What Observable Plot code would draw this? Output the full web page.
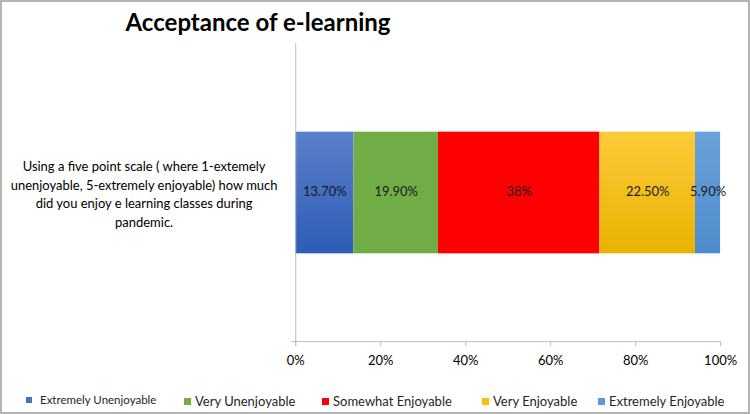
<!DOCTYPE html>
<html>
<head>
<meta charset="utf-8">
<script src="https://cdn.jsdelivr.net/npm/d3@7"></script>
<script src="https://cdn.jsdelivr.net/npm/@observablehq/plot@0.6"></script>
<style>
  html, body { margin: 0; padding: 0; background: #fff; }
  #frame { position: relative; width: 750px; height: 414px; box-sizing: border-box; border: 2px solid #b4b4b4; overflow: hidden; font-family: Lato, "Open Sans", sans-serif; color: #000; }
  #title { position: absolute; left: 0; width: 512px; top: 5px; text-align: center; font-size: 24px; font-weight: bold; }
  #chart { position: absolute; left: -2px; top: -2px; }
  #legend { position: absolute; left: 0; top: 391px; width: 750px; height: 20px; }
  .item { position: absolute; top: 0; display: flex; align-items: center; font-size: 13px; white-space: nowrap; color: #262626; }
  .sw { display: inline-block; width: 7px; height: 7px; margin-right: 4px; }
</style>
</head>
<body>
<div id="frame">
  <div id="title"></div>
  <div id="chart"></div>
  <div id="legend"></div>
</div>
<script>
const title = "Acceptance of e-learning";
const question = "Using a five point scale ( where 1-extemely\nunenjoyable, 5-extremely enjoyable) how much\ndid you enjoy e learning classes during\npandemic.";
const categories = ["Extremely Unenjoyable", "Very Unenjoyable", "Somewhat Enjoyable", "Very Enjoyable", "Extremely Enjoyable"];
const values = [13.7, 19.9, 38, 22.5, 5.9];
const valueLabels = ["13.70%", "19.90%", "38%", "22.50%", "5.90%"];
const xTicks = [0, 20, 40, 60, 80, 100];
const xTickLabels = ["0%", "20%", "40%", "60%", "80%", "100%"];
const gradientTops = ["#5b80ca", "#70ad47", "#ff0000", "#ffca3a", "#6aa0d9"];
const gradientBottoms = ["#2e5cb6", "#70ad47", "#ff0000", "#e8b300", "#4c8dcd"];
const swatchColors = ["#4472c4", "#70ad47", "#ff0000", "#ffc000", "#5b9bd5"];

const rows = categories.map((c, i) => ({question, category: c, value: values[i], label: valueLabels[i]}));

document.getElementById("title").textContent = title;

const plot = Plot.plot({
  width: 750,
  height: 414,
  marginTop: 43,
  marginBottom: 72,
  marginLeft: 296,
  marginRight: 28,
  style: {fontFamily: "Lato, 'Open Sans', sans-serif", fontSize: "13px", color: "#000", background: "transparent"},
  x: {domain: [0, 100], axis: null},
  y: {domain: [question], axis: null, padding: 0.42},
  color: {domain: categories, range: categories.map((c, i) => `url(#grad${i})`)},
  marks: [
    Plot.barX(rows, Plot.stackX({x: "value", y: "question", fill: "category"})),
    Plot.text(rows, Plot.stackX({x: "value", y: "question", text: "label", fill: "#1a1a1a", fontSize: 13, dy: -1})),
    Plot.text([question], {y: d => d, text: d => d, frameAnchor: "left", dx: -152, textAnchor: "middle", lineHeight: 1.45, fontSize: 13, fill: "#000"}),
    Plot.ruleX([0], {stroke: "#bfbfbf", insetBottom: -5}),
    Plot.frame({anchor: "bottom", stroke: "#bfbfbf", insetLeft: -4}),
    Plot.axisX({ticks: xTicks, tickFormat: d => xTickLabels[xTicks.indexOf(d)], tickSize: 5, tickPadding: 9, stroke: "#bfbfbf", fill: "#000", fontSize: 13, label: null})
  ]
});

const defs = d3.select(plot).insert("defs", ":first-child");
categories.forEach((c, i) => {
  const g = defs.append("linearGradient").attr("id", `grad${i}`).attr("x1", 0).attr("y1", 0).attr("x2", 0).attr("y2", 1);
  g.append("stop").attr("offset", "0%").attr("stop-color", gradientTops[i]);
  g.append("stop").attr("offset", "100%").attr("stop-color", gradientBottoms[i]);
});
document.getElementById("chart").appendChild(plot);

const legendLefts = [24, 182, 320, 480, 596];
const legend = d3.select("#legend");
categories.forEach((c, i) => {
  const item = legend.append("div").attr("class", "item").style("left", legendLefts[i] + "px");
  if (i === 0) item.style("font-size", "11.5px");
  item.append("span").attr("class", "sw").style("background", swatchColors[i]).style("width", i === 0 ? "6px" : "7px").style("height", i === 0 ? "6px" : "7px").style("margin-right", i === 0 ? "8px" : "4px");
  item.append("span").text(c);
});
</script>
</body>
</html>
